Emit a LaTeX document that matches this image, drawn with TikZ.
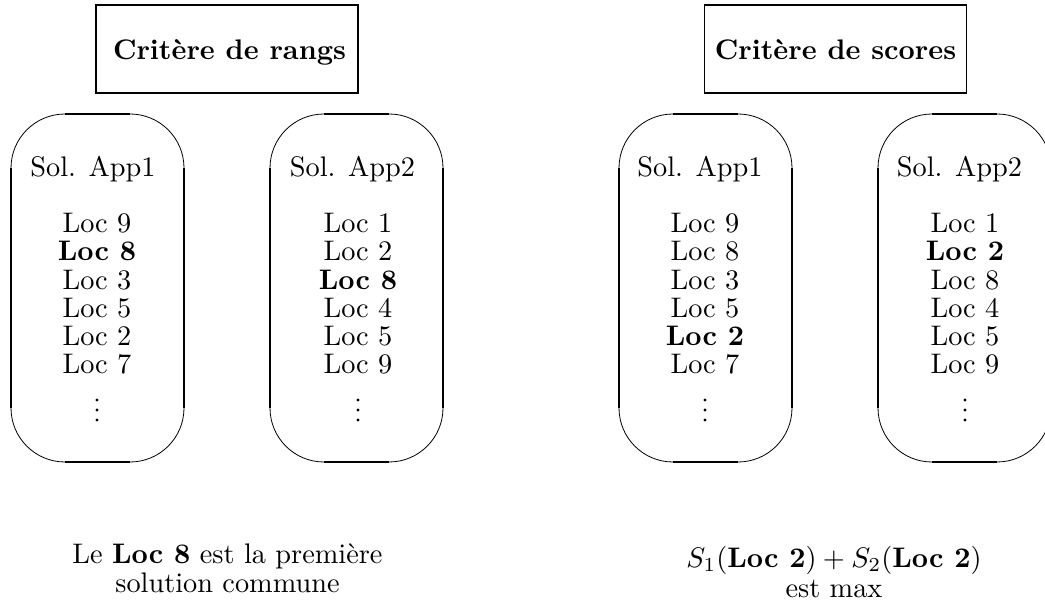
\RequirePackage{fix-cm}
\documentclass[tikz,border=0pt]{standalone}
\newcommand\drawoval[1]{%
  \draw[arcline] (#1,438) arc[start angle=180,end angle=90,radius=54];
  \draw[arcline] ({#1+119},492) arc[start angle=90,end angle=0,radius=54];
  \draw[arcline] ({#1+173},198) arc[start angle=0,end angle=-90,radius=54];
  \draw[arcline] ({#1+54},144) arc[start angle=270,end angle=180,radius=54];
  \draw[sideline] (#1,438) -- (#1,198);
  \draw[sideline] ({#1+173},438) -- ({#1+173},198);
  \draw[sideline] ({#1+54},492) -- ({#1+119},492);
  \draw[sideline] ({#1+54},144) -- ({#1+119},144);
}
\newcommand\vdotsat[1]{%
  \fill (#1,206) circle[radius=1.6];
  \fill (#1,196) circle[radius=1.6];
  \fill (#1,186) circle[radius=1.6];
}
\begin{document}
\begin{tikzpicture}[x=1pt,y=1pt,
  txt/.style={anchor=base, inner sep=0pt, font=\normalsize, scale=2.83, transform shape},
  hdr/.style={draw, line width=1.6pt, minimum width=262pt, minimum height=88pt, inner sep=0pt},
  arcline/.style={line width=0.8pt},
  sideline/.style={line width=2.4pt}]
\useasboundingbox (0,0) rectangle (1045,606);

% headers
\node[hdr] (hA) at (227,557) {};
\node[txt] (tA) at (229.5,546) {\bfseries Critère de rangs};
\node[hdr] (hB) at (835.5,557) {};
\node[txt] (tB) at (835.5,546) {\bfseries Critère de scores};

% ovals
\drawoval{11}
\drawoval{270}
\drawoval{619}
\drawoval{878}

% titles
\node[txt] (s1) at (93,429) {Sol. App1};
\node[txt] (s2) at (352.5,429) {Sol. App2};
\node[txt] (s3) at (700,429) {Sol. App1};
\node[txt] (s4) at (959.5,429) {Sol. App2};

% lists
\foreach \t [count=\i] in {Loc 9,\textbf{Loc 8},Loc 3,Loc 5,Loc 2,Loc 7}
  \node[txt] (a\i) at (97,{373.3-28.2*(\i-1)}) {\t};
\foreach \t [count=\i] in {Loc 1,Loc 2,\textbf{Loc 8},Loc 4,Loc 5,Loc 9}
  \node[txt] (b\i) at (358,{373.3-28.2*(\i-1)}) {\t};
\foreach \t [count=\i] in {Loc 9,Loc 8,Loc 3,Loc 5,\textbf{Loc 2},Loc 7}
  \node[txt] (c\i) at (705,{373.3-28.2*(\i-1)}) {\t};
\foreach \t [count=\i] in {Loc 1,\textbf{Loc 2},Loc 8,Loc 4,Loc 5,Loc 9}
  \node[txt] (d\i) at (965,{373.3-28.2*(\i-1)}) {\t};

\vdotsat{97}
\vdotsat{358}
\vdotsat{705}
\vdotsat{965}

% conclusions
\node[txt] (cA1) at (227.5,43) {Le \textbf{Loc 8} est la première};
\node[txt] (cA2) at (227.5,14) {solution commune};
\node[txt] (cB1) at (834,39) {$S_1(\textbf{Loc 2})+S_2(\textbf{Loc 2})$};
\node[txt] (cB2) at (834,9) {est max};
\end{tikzpicture}
\end{document}
